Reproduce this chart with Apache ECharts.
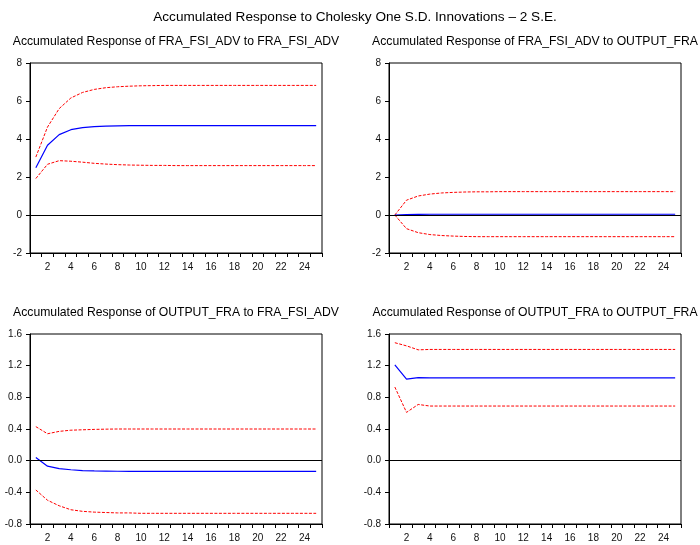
<!DOCTYPE html>
<html>
<head>
<meta charset="utf-8">
<script src="https://cdn.jsdelivr.net/npm/echarts@6/dist/echarts.min.js"></script>
<style>html,body{margin:0;padding:0;background:#fff}#c{width:700px;height:545px}</style>
</head>
<body>
<div id="c"></div>
<script>
var periods = ['1','2','3','4','5','6','7','8','9','10','11','12','13','14','15','16','17','18','19','20','21','22','23','24','25'];

var mainTitle = 'Accumulated Response to Cholesky One S.D. Innovations \u2013 2 S.E.';
var panelTitles = [
  'Accumulated Response of FRA_FSI_ADV to FRA_FSI_ADV',
  'Accumulated Response of FRA_FSI_ADV to OUTPUT_FRA',
  'Accumulated Response of OUTPUT_FRA to FRA_FSI_ADV',
  'Accumulated Response of OUTPUT_FRA to OUTPUT_FRA'
];

// Panel 1: FRA_FSI_ADV to FRA_FSI_ADV
var p1Resp  = [2.49,3.67,4.23,4.49,4.60,4.65,4.68,4.69,4.70,4.70,4.70,4.70,4.70,4.70,4.70,4.70,4.70,4.70,4.70,4.70,4.70,4.70,4.70,4.70,4.70];
var p1Upper = [3.05,4.63,5.60,6.16,6.45,6.61,6.70,6.75,6.78,6.80,6.81,6.82,6.82,6.82,6.82,6.82,6.82,6.82,6.82,6.82,6.82,6.82,6.82,6.82,6.82];
var p1Lower = [1.92,2.67,2.86,2.83,2.78,2.72,2.68,2.65,2.63,2.62,2.61,2.61,2.60,2.60,2.60,2.60,2.60,2.60,2.60,2.60,2.60,2.60,2.60,2.60,2.60];

// Panel 2: FRA_FSI_ADV to OUTPUT_FRA
var p2Resp  = [0.00,0.02,0.03,0.04,0.04,0.04,0.04,0.04,0.04,0.04,0.04,0.04,0.04,0.04,0.04,0.04,0.04,0.04,0.04,0.04,0.04,0.04,0.04,0.04,0.04];
var p2Upper = [0.00,0.78,1.00,1.10,1.16,1.19,1.21,1.22,1.22,1.23,1.23,1.23,1.23,1.23,1.23,1.23,1.23,1.23,1.23,1.23,1.23,1.23,1.23,1.23,1.23];
var p2Lower = [0.00,-0.72,-0.93,-1.03,-1.08,-1.11,-1.13,-1.14,-1.14,-1.14,-1.14,-1.14,-1.14,-1.14,-1.14,-1.14,-1.14,-1.14,-1.14,-1.14,-1.14,-1.14,-1.14,-1.14,-1.14];

// Panel 3: OUTPUT_FRA to FRA_FSI_ADV
var p3Resp  = [0.04,-0.07,-0.10,-0.115,-0.125,-0.13,-0.132,-0.134,-0.135,-0.135,-0.135,-0.135,-0.135,-0.135,-0.135,-0.135,-0.135,-0.135,-0.135,-0.135,-0.135,-0.135,-0.135,-0.135,-0.135];
var p3Upper = [0.43,0.34,0.37,0.385,0.39,0.395,0.398,0.40,0.40,0.40,0.40,0.40,0.40,0.40,0.40,0.40,0.40,0.40,0.40,0.40,0.40,0.40,0.40,0.40,0.40];
var p3Lower = [-0.37,-0.50,-0.57,-0.62,-0.64,-0.65,-0.655,-0.66,-0.66,-0.665,-0.665,-0.665,-0.665,-0.665,-0.665,-0.665,-0.665,-0.665,-0.665,-0.665,-0.665,-0.665,-0.665,-0.665,-0.665];

// Panel 4: OUTPUT_FRA to OUTPUT_FRA
var p4Resp  = [1.21,1.03,1.05,1.045,1.045,1.045,1.045,1.045,1.045,1.045,1.045,1.045,1.045,1.045,1.045,1.045,1.045,1.045,1.045,1.045,1.045,1.045,1.045,1.045,1.045];
var p4Upper = [1.49,1.45,1.40,1.405,1.405,1.405,1.405,1.405,1.405,1.405,1.405,1.405,1.405,1.405,1.405,1.405,1.405,1.405,1.405,1.405,1.405,1.405,1.405,1.405,1.405];
var p4Lower = [0.93,0.61,0.71,0.69,0.69,0.69,0.69,0.69,0.69,0.69,0.69,0.69,0.69,0.69,0.69,0.69,0.69,0.69,0.69,0.69,0.69,0.69,0.69,0.69,0.69];

var yMin = [-2, -2, -0.8, -0.8];
var yMax = [8, 8, 1.6, 1.6];
var yStep = [2, 2, 0.4, 0.4];
var yDecimals = [0, 0, 1, 1];

var resp = [p1Resp, p2Resp, p3Resp, p4Resp];
var upper = [p1Upper, p2Upper, p3Upper, p4Upper];
var lower = [p1Lower, p2Lower, p3Lower, p4Lower];

var FONT = 'Liberation Sans, Arial, sans-serif';
var gridPos = [
  {left: 30, top: 63, width: 292, height: 190},
  {left: 389, top: 63, width: 292, height: 190},
  {left: 30, top: 334, width: 292, height: 190},
  {left: 389, top: 334, width: 292, height: 190}
];

var titles = [{
  text: mainTitle, left: 355, top: 10, textAlign: 'center', padding: 0,
  textStyle: {fontFamily: FONT, fontSize: 13.6, fontWeight: 'normal', color: '#000'}
}];
var grids = [], xAxes = [], yAxes = [], series = [];
for (var i = 0; i < 4; i++) {
  var g = gridPos[i];
  titles.push({
    text: panelTitles[i], left: g.left + g.width / 2, top: g.top - 27, textAlign: 'center', padding: 0,
    textStyle: {fontFamily: FONT, fontSize: 12.2, fontWeight: 'normal', color: '#000'}
  });
  grids.push({left: g.left, top: g.top, width: g.width, height: g.height,
    show: true, borderColor: '#000', borderWidth: 1, backgroundColor: 'transparent'});
  xAxes.push({
    type: 'category', gridIndex: i, data: periods, boundaryGap: true,
    axisLine: {show: true, onZero: false, lineStyle: {color: '#000', width: 1}},
    axisTick: {show: true, interval: 0, length: 4, lineStyle: {color: '#000'}},
    axisLabel: {interval: function (idx) { return idx % 2 === 1; }, fontFamily: FONT, fontSize: 10, color: '#111', margin: 9},
    splitLine: {show: false}
  });
  (function (d) {
    yAxes.push({
      type: 'value', gridIndex: i, min: yMin[i], max: yMax[i], interval: yStep[i],
      axisLine: {show: true, lineStyle: {color: '#000', width: 1}},
      axisTick: {show: true, length: 4, lineStyle: {color: '#000'}},
      axisLabel: {fontFamily: FONT, fontSize: 10, color: '#111', margin: 8,
        formatter: function (v) { return v.toFixed(d); }},
      splitLine: {show: false}
    });
  })(yDecimals[i]);
  series.push({
    type: 'line', xAxisIndex: i, yAxisIndex: i, data: upper[i], symbol: 'none', silent: true,
    lineStyle: {color: '#ff0000', width: 1, type: [3, 1.5]}
  });
  series.push({
    type: 'line', xAxisIndex: i, yAxisIndex: i, data: lower[i], symbol: 'none', silent: true,
    lineStyle: {color: '#ff0000', width: 1, type: [3, 1.5]}
  });
  series.push({
    type: 'line', xAxisIndex: i, yAxisIndex: i, data: resp[i], symbol: 'none', silent: true,
    lineStyle: {color: '#0000ff', width: 1.2},
    markLine: {silent: true, symbol: 'none', label: {show: false},
      lineStyle: {color: '#000', width: 1, type: 'solid'}, data: [{yAxis: 0}]}
  });
}

var chart = echarts.init(document.getElementById('c'));
chart.setOption({
  animation: false,
  backgroundColor: '#fff',
  title: titles,
  grid: grids,
  xAxis: xAxes,
  yAxis: yAxes,
  series: series
});
</script>
</body>
</html>
